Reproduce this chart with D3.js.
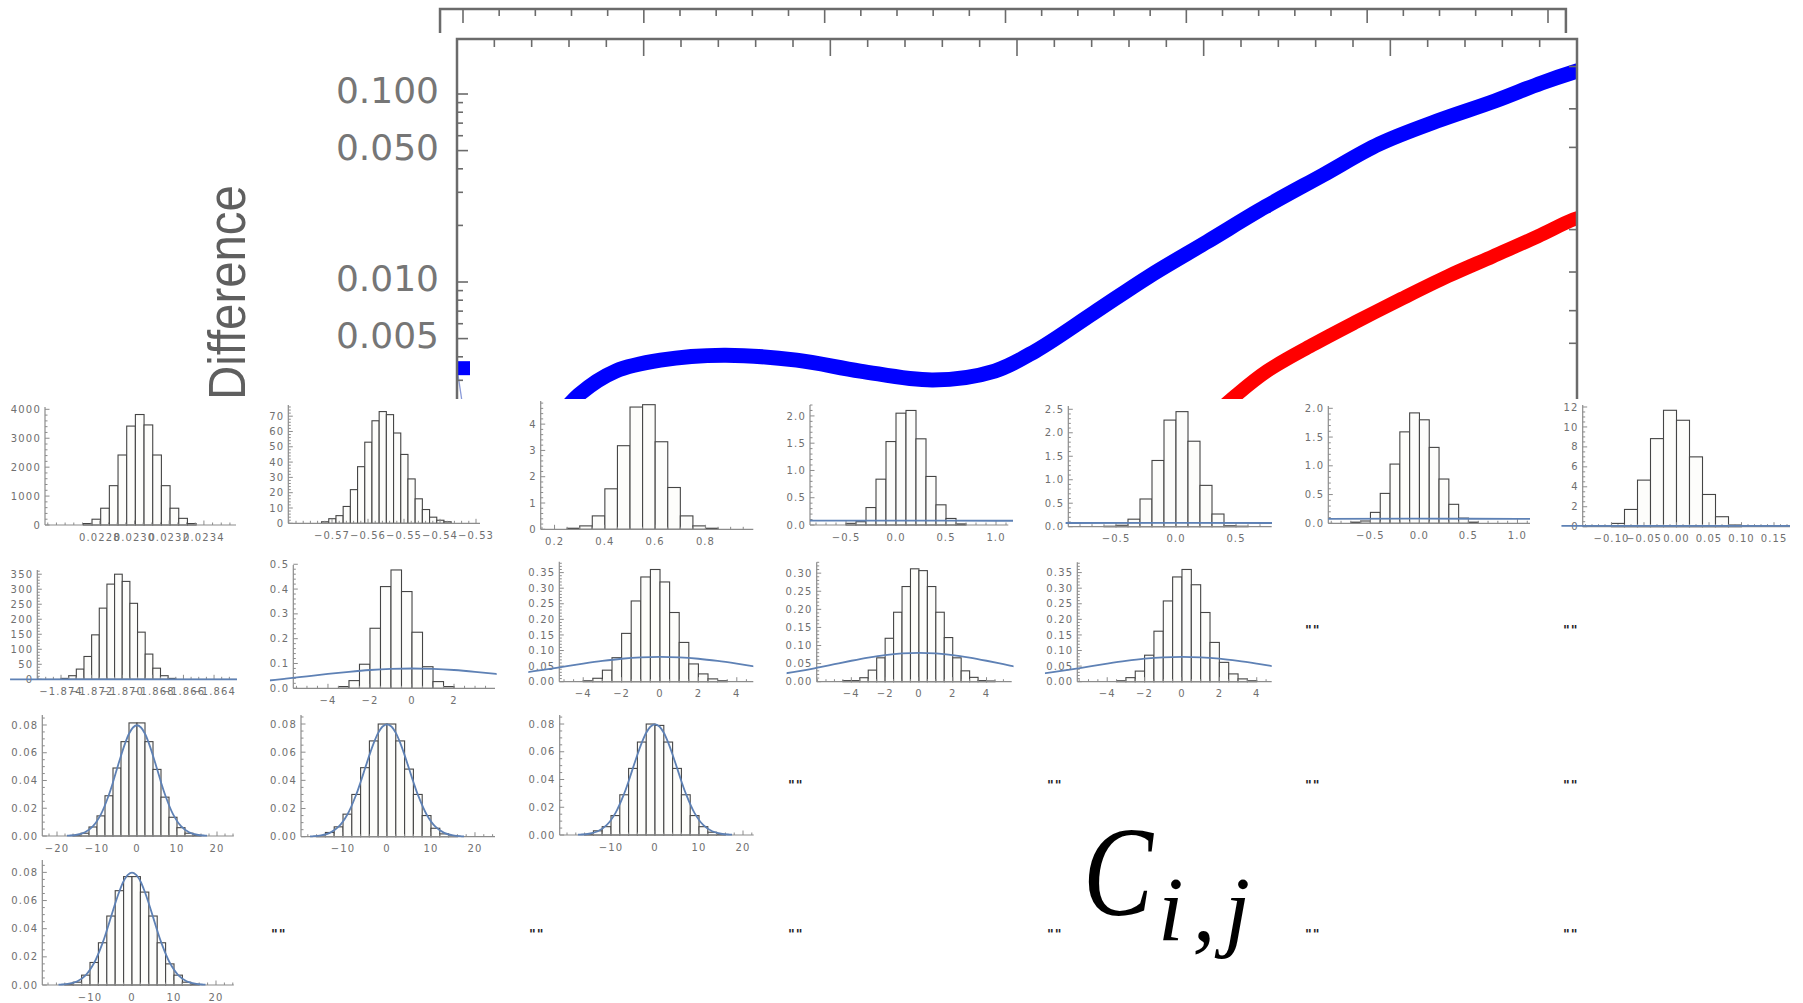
<!DOCTYPE html>
<html><head><meta charset="utf-8">
<script src="https://cdn.jsdelivr.net/npm/d3@7"></script>
<style>body{margin:0;background:#fff}svg{display:block}</style>
</head><body><svg id="c" width="1803" height="1003"></svg>
<script>
// ================= TOP PLOT DATA =================
const blueX = [0, 0.07, 0.30, 0.50, 0.652, 0.85, 1.09, 1.43, 1.82, 2.16, 2.55, 2.88, 3.10, 3.41, 3.71, 4.02, 4.33, 4.64, 4.94, 5.25, 5.56, 5.81, 6.0, 6.05];
const blueDiff = [0.00348, 0.0012, 0.0011, 0.0017, 0.00251, 0.00336, 0.00384, 0.00408, 0.00384, 0.00336, 0.00301, 0.00336, 0.0043, 0.00684, 0.01076, 0.0164, 0.0251, 0.0371, 0.0542, 0.0718, 0.0918, 0.1145, 0.1325, 0.137];
const redX = [3.98, 4.17, 4.34, 4.58, 4.82, 5.06, 5.31, 5.55, 5.79, 5.98, 6.05];
const redDiff = [0.00168, 0.00248, 0.00336, 0.00461, 0.00616, 0.00814, 0.01076, 0.0137, 0.0175, 0.0215, 0.0225];
const yTicksTop = [0.1, 0.05, 0.01, 0.005];
const yTickLabelsTop = ["0.100", "0.050", "0.010", "0.005"];
const yMinorTop = [0.002,0.003,0.004,0.006,0.007,0.008,0.009,0.02,0.03,0.04,0.06,0.07,0.08,0.09];
const yRightTop = [0.140, 0.0834, 0.052, 0.019, 0.0113, 0.00704, 0.00472];
const xMajorTop = [1, 2, 3, 4, 5];

// ================= HISTOGRAM DATA =================
const h11 = [50, 200, 580, 1360, 2420, 3420, 3820, 3460, 2420, 1360, 580, 230, 50];
const h12 = [1, 3, 5, 11, 22, 37, 53, 67, 73, 71, 59, 45, 29, 16, 9, 4, 2, 1];
const h13 = [0.04, 0.13, 0.51, 1.54, 3.18, 4.65, 4.74, 3.33, 1.59, 0.51, 0.13, 0.04];
const h14 = [0.03, 0.06, 0.32, 0.84, 1.53, 2.05, 2.10, 1.58, 0.89, 0.37, 0.12, 0.02];
const h15 = [0.01, 0.03, 0.16, 0.59, 1.41, 2.27, 2.45, 1.82, 0.88, 0.27, 0.02, 0.01];
const h16 = [0.02, 0.04, 0.19, 0.52, 1.03, 1.59, 1.92, 1.80, 1.32, 0.77, 0.33, 0.09, 0.02];
const h17 = [0.33, 1.73, 4.67, 8.83, 11.67, 10.67, 7.0, 3.23, 1.0, 0.17];
const h21 = [3, 12, 34, 76, 148, 237, 317, 350, 326, 253, 157, 84, 37, 12, 3];
const h22 = [0.007, 0.031, 0.097, 0.242, 0.41, 0.477, 0.39, 0.226, 0.087, 0.027, 0.007];
const h23 = [0.003, 0.011, 0.037, 0.077, 0.155, 0.259, 0.336, 0.360, 0.320, 0.222, 0.126, 0.057, 0.025, 0.009, 0.003];
const h24 = [0.003, 0.003, 0.011, 0.032, 0.066, 0.120, 0.192, 0.263, 0.312, 0.307, 0.263, 0.192, 0.122, 0.066, 0.030, 0.012, 0.003, 0.002];
const h25 = [0.003, 0.013, 0.034, 0.085, 0.162, 0.259, 0.336, 0.360, 0.311, 0.222, 0.126, 0.062, 0.025, 0.009, 0.003];
const h31 = [0.0005, 0.002, 0.0065, 0.0145, 0.029, 0.049, 0.068, 0.0815, 0.0815, 0.068, 0.048, 0.028, 0.0135, 0.006, 0.002, 0.0005];
const h32 = [0.0005, 0.003, 0.007, 0.016, 0.030, 0.049, 0.068, 0.080, 0.080, 0.068, 0.048, 0.030, 0.015, 0.006, 0.002, 0.0005];
const h33 = [0.0005, 0.003, 0.006, 0.014, 0.029, 0.048, 0.067, 0.080, 0.079, 0.067, 0.048, 0.029, 0.014, 0.006, 0.002, 0.0005];
const h41 = [0.0005, 0.002, 0.007, 0.016, 0.030, 0.049, 0.067, 0.077, 0.077, 0.066, 0.049, 0.030, 0.015, 0.007, 0.002, 0.0005];

const binStart = {h11: 0.022705, h12: -0.5729, h13: 0.25, h14: -0.5, h15: -0.6, h16: -0.7, h17: -0.10, h21: -1.874, h22: -3.5, h23: -4, h24: -4.5, h25: -3.5, h31: -16, h32: -16, h33: -16, h41: -16};
const binWidth = {h11: 0.00005, h12: 0.002, h13: 0.05, h14: 0.1, h15: 0.1, h16: 0.1, h17: 0.02, h21: 0.0005, h22: 0.5, h23: 0.5, h24: 0.5, h25: 0.5, h31: 2, h32: 2, h33: 2, h41: 2};

// fitted density curve (shared by panels)
const curveX = [-24, -20, -17, -15, -13, -11, -9, -7, -6, -5, -4, -3, -2, -1, 0, 1, 2, 3, 4, 5, 6, 7, 9, 11, 13, 15, 17, 20, 24];
const curveY = [0.000001, 0.00003, 0.0003, 0.0009, 0.0027, 0.0071, 0.0158, 0.0299, 0.0388, 0.0484, 0.0579, 0.0666, 0.0737, 0.0782, 0.0798, 0.0782, 0.0737, 0.0666, 0.0579, 0.0484, 0.0388, 0.0299, 0.0158, 0.0071, 0.0027, 0.0009, 0.0003, 0.00003, 0.000001];

const xt11 = [0.0228, 0.0230, 0.0232, 0.0234], yt11 = [0, 1000, 2000, 3000, 4000];
const xt12 = [-0.57, -0.56, -0.55, -0.54, -0.53], yt12 = [0, 10, 20, 30, 40, 50, 60, 70];
const xt13 = [0.2, 0.4, 0.6, 0.8], yt13 = [0, 1, 2, 3, 4];
const xt14 = [-0.5, 0, 0.5, 1.0], yt14 = [0, 0.5, 1, 1.5, 2];
const xt15 = [-0.5, 0, 0.5], yt15 = [0, 0.5, 1, 1.5, 2, 2.5];
const xt16 = [-0.5, 0, 0.5, 1.0], yt16 = [0, 0.5, 1, 1.5, 2];
const xt17 = [-0.10, -0.05, 0, 0.05, 0.10, 0.15], yt17 = [0, 2, 4, 6, 8, 10, 12];
const xt21 = [-1.874, -1.872, -1.870, -1.868, -1.866, -1.864], yt21 = [0, 50, 100, 150, 200, 250, 300, 350];
const xt22 = [-4, -2, 0, 2], yt22 = [0, 0.1, 0.2, 0.3, 0.4, 0.5];
const xtN = [-4, -2, 0, 2, 4];
const yt23 = [0, 0.05, 0.1, 0.15, 0.2, 0.25, 0.3, 0.35], yt24 = [0, 0.05, 0.1, 0.15, 0.2, 0.25, 0.3];
const xt31 = [-20, -10, 0, 10, 20], xt32 = [-10, 0, 10, 20], ytG = [0, 0.02, 0.04, 0.06, 0.08];

// ================= LAYOUT (pixels) =================
const panels = [
 {k:'h11', l:45, r:236, b:525, t:407, xd:[0.022484,0.023585], ym:4080, xt:xt11, xf:'.4f', xm:0.00005, yt:yt11, yf:'d', ymn:200},
 {k:'h12', l:288.3, r:480, b:523.3, t:405, xd:[-0.58214,-0.52889], ym:77.3, xt:xt12, xf:'.2f', xm:0.002, yt:yt12, yf:'d', ymn:2},
 {k:'h13', l:540.7, r:753.3, b:529.3, t:401, xd:[0.145,0.99], ym:4.88, xt:xt13, xf:'.1f', xm:0.05, yt:yt13, yf:'d', ymn:0.2},
 {k:'h14', l:810, r:1008.3, b:525, t:405, xd:[-0.86,1.123], ym:2.2, xt:xt14, xf:'.1f', xm:0.1, yt:yt14, yf:'.1f', ymn:0.1, c:[-0.86,1.17]},
 {k:'h15', l:1068.3, r:1271.7, b:526.7, t:406, xd:[-0.8975,0.7975], ym:2.57, xt:xt15, xf:'.1f', xm:0.1, yt:yt15, yf:'.1f', ymn:0.1, c:[-0.92,0.80]},
 {k:'h16', l:1328.3, r:1530, b:523.3, t:406, xd:[-0.93,1.128], ym:2.04, xt:xt16, xf:'.1f', xm:0.1, yt:yt16, yf:'.1f', ymn:0.1, c:[-0.93,1.128]},
 {k:'h17', l:1582.7, r:1790, b:526.7, t:405, xd:[-0.1443,0.1746], ym:12.2, xt:xt17, xf:'.2f', xm:0.01, yt:yt17, yf:'d', ymn:0.5, c:[-0.177,0.1746]},
 {k:'h21', l:37.3, r:236.7, b:679.3, t:570, xd:[-1.87555,-1.86252], ym:364, xt:xt21, xf:'.3f', xm:0.0005, yt:yt21, yf:'d', ymn:10, c:[-1.87733,-1.8625]},
 {k:'h22', l:293.3, r:495, b:688.3, t:565, xd:[-5.65,3.95], ym:0.497, xt:xt22, xf:'d', xm:0.5, yt:yt22, yf:'.1f', ymn:0.02, c:[-6.76,4.03]},
 {k:'h23', l:559.3, r:753.3, b:681.7, t:561.7, xd:[-5.245,4.859], ym:0.385, xt:xtN, xf:'d', xm:0.5, yt:yt23, yf:'.2f', ymn:0.01, c:[-6.86,4.86]},
 {k:'h24', l:816.7, r:1011.7, b:681.7, t:562.3, xd:[-6.05,5.49], ym:0.33, xt:xtN, xf:'d', xm:0.5, yt:yt24, yf:'.2f', ymn:0.01, c:[-7.83,5.6]},
 {k:'h25', l:1077.3, r:1271.7, b:681.7, t:562.3, xd:[-5.6,4.8], ym:0.383, xt:xtN, xf:'d', xm:0.5, yt:yt23, yf:'.2f', ymn:0.01, c:[-7.33,4.8]},
 {k:'h31', l:42.3, r:233.8, b:836, t:715, xd:[-23.675,24.2], ym:0.0872, xt:xt31, xf:'d', xm:2, yt:ytG, yf:'.2f', ymn:0.005, c:[-17.5,17.5]},
 {k:'h32', l:301, r:495, b:836.7, t:715, xd:[-19.55,24.55], ym:0.0864, xt:xt32, xf:'d', xm:2, yt:ytG, yf:'.2f', ymn:0.005, c:[-17.5,17.5]},
 {k:'h33', l:559.7, r:753.7, b:835, t:715, xd:[-21.66,22.43], ym:0.0865, xt:xt32, xf:'d', xm:2, yt:ytG, yf:'.2f', ymn:0.005, c:[-17.5,17.5]},
 {k:'h41', l:42.3, r:233.8, b:985, t:860, xd:[-21.36,24.24], ym:0.0888, xt:xt32, xf:'d', xm:2, yt:ytG, yf:'.2f', ymn:0.005, c:[-17.5,17.5]}
];
const histData = {h11,h12,h13,h14,h15,h16,h17,h21,h22,h23,h24,h25,h31,h32,h33,h41};
const emptyCells = [[1305,626],[1563,626],[788,781],[1047,781],[1305,781],[1563,781],[271,930],[529,930],[788,930],[1047,930],[1305,930],[1563,930]];

const svg = d3.select('#c');
svg.append('rect').attr('width',1803).attr('height',1003).attr('fill','#fff');

// ================= TOP PLOT =================
const FR = {l:457, r:1577, t:39, clipB:399};
const xTop = d3.scaleLinear().domain([0,6]).range([FR.l, FR.r]);
const yTop = d3.scaleLog().domain([0.0003, 0.19]).range([568.3, 41.6]);
const frameCol = '#6b6b6b';
const topG = svg.append('g');
const defs = svg.append('defs');
defs.append('clipPath').attr('id','topclip').append('rect').attr('x',0).attr('y',0).attr('width',1803).attr('height',FR.clipB);
defs.append('clipPath').attr('id','plotclip').append('rect').attr('x',FR.l).attr('y',FR.t).attr('width',FR.r-FR.l).attr('height',FR.clipB-FR.t);
const tg = topG.append('g').attr('clip-path','url(#topclip)');

// upper strip
const xStrip = d3.scaleLinear().domain([0,6]).range([463,1548]);
tg.append('path').attr('d',`M${xStrip(-0.127)},33V9H${xStrip(6.099)}V33`).attr('fill','none').attr('stroke',frameCol).attr('stroke-width',2.5);
d3.range(0,31).forEach(i=>{const v=i*0.2, maj=i%5===0;
  tg.append('line').attr('x1',xStrip(v)).attr('x2',xStrip(v)).attr('y1',9).attr('y2',maj?23:16).attr('stroke',frameCol).attr('stroke-width',1.6);});

// data curves
const pg = tg.append('g').attr('clip-path','url(#plotclip)');
const lineTop = d3.line().x(d=>xTop(d[0])).y(d=>yTop(d[1])).curve(d3.curveCatmullRom);
const bluePts = blueX.map((x,i)=>[x,blueDiff[i]]);
const redPts = redX.map((x,i)=>[x,redDiff[i]]);
pg.append('path').attr('d',d3.line().x(d=>xTop(d[0])).y(d=>yTop(d[1]))(bluePts.slice(0,2))).attr('fill','none').attr('stroke','#8a9ad8').attr('stroke-width',1.3);
pg.append('path').attr('d',lineTop(bluePts.slice(1))).attr('fill','none').attr('stroke','#0000ff').attr('stroke-width',15).attr('stroke-linejoin','round');
pg.append('rect').attr('x',xTop(blueX[0])-1).attr('y',yTop(blueDiff[0])-7).attr('width',14).attr('height',14).attr('fill','#0000ff');
pg.append('path').attr('d',lineTop(redPts)).attr('fill','none').attr('stroke','#ff0000').attr('stroke-width',14).attr('stroke-linejoin','round');

// frame
tg.append('path').attr('d',`M${FR.l},${FR.clipB+2}V${FR.t}H${FR.r}V${FR.clipB+2}`).attr('fill','none').attr('stroke',frameCol).attr('stroke-width',2.5);
d3.range(1,30).forEach(i=>{const v=i*0.2, maj=xMajorTop.includes(Math.round(v*1000)/1000);
  tg.append('line').attr('x1',xTop(v)).attr('x2',xTop(v)).attr('y1',FR.t).attr('y2',FR.t+(maj?17:8)).attr('stroke',frameCol).attr('stroke-width',1.6);});
yTicksTop.forEach((v,i)=>{
  tg.append('line').attr('x1',FR.l).attr('x2',FR.l+11).attr('y1',yTop(v)).attr('y2',yTop(v)).attr('stroke',frameCol).attr('stroke-width',1.6);
  tg.append('text').attr('x',439).attr('y',yTop(v)+9).attr('text-anchor','end')
    .attr('font-family','DejaVu Sans').attr('font-size',36).attr('fill','#767676').text(yTickLabelsTop[i]);
});
yMinorTop.forEach(v=>tg.append('line').attr('x1',FR.l).attr('x2',FR.l+6).attr('y1',yTop(v)).attr('y2',yTop(v)).attr('stroke',frameCol).attr('stroke-width',1.6));
yRightTop.forEach(v=>tg.append('line').attr('x1',FR.r-8).attr('x2',FR.r).attr('y1',yTop(v)).attr('y2',yTop(v)).attr('stroke',frameCol).attr('stroke-width',1.6));
tg.append('text').attr('transform','translate(245,400) rotate(-90) scale(0.91,1)')
  .attr('font-family','Liberation Sans, Arial').attr('font-size',52).attr('fill','#5f5f5f').text('Difference');

// ================= HISTOGRAMS =================
const axisCol = '#8c8c8c', labCol = '#6f6f6f';
panels.forEach(p=>{
  const vals = histData[p.k], s0 = binStart[p.k], bw = binWidth[p.k];
  const x = d3.scaleLinear().domain(p.xd).range([p.l,p.r]);
  const y = d3.scaleLinear().domain([0,p.ym]).range([p.b,p.t]);
  const g = svg.append('g');
  g.selectAll('rect.bar').data(vals).join('rect').attr('class','bar')
    .attr('x',(d,i)=>x(s0+i*bw)).attr('width',(d,i)=>x(s0+(i+1)*bw)-x(s0+i*bw))
    .attr('y',d=>y(d)).attr('height',d=>p.b-y(d))
    .attr('fill','#fdfdfb').attr('stroke','#454545').attr('stroke-width',1.1);
  g.append('line').attr('x1',p.l).attr('x2',p.r).attr('y1',p.b).attr('y2',p.b).attr('stroke',axisCol).attr('stroke-width',1.2);
  g.append('line').attr('x1',p.l).attr('x2',p.l).attr('y1',p.b).attr('y2',p.t).attr('stroke',axisCol).attr('stroke-width',1.2);
  const xfmt = d3.format(p.xf), yfmt = d3.format(p.yf);
  const near = (v,arr,st)=>arr.some(a=>Math.abs(a-v)<st*0.3);
  const kx0 = Math.ceil(p.xd[0]/p.xm), kx1 = Math.floor(p.xd[1]/p.xm);
  for(let k=kx0;k<=kx1;k++){const v=k*p.xm; if(near(v,p.xt,p.xm)) continue;
    g.append('line').attr('x1',x(v)).attr('x2',x(v)).attr('y1',p.b).attr('y2',p.b-2.5).attr('stroke',axisCol);}
  p.xt.forEach(v=>{
    g.append('line').attr('x1',x(v)).attr('x2',x(v)).attr('y1',p.b).attr('y2',p.b-4.5).attr('stroke',axisCol);
    g.append('text').attr('x',x(v)).attr('y',p.b+15.5).attr('text-anchor','middle')
      .attr('font-family','DejaVu Sans').attr('font-size',10).attr('letter-spacing',1.1).attr('fill',labCol).text(xfmt(v));
  });
  const ky1 = Math.floor(p.ym/p.ymn);
  for(let k=1;k<=ky1;k++){const v=k*p.ymn; if(near(v,p.yt,p.ymn)) continue;
    g.append('line').attr('x1',p.l).attr('x2',p.l+2.5).attr('y1',y(v)).attr('y2',y(v)).attr('stroke',axisCol);}
  p.yt.forEach(v=>{
    g.append('line').attr('x1',p.l).attr('x2',p.l+4.5).attr('y1',y(v)).attr('y2',y(v)).attr('stroke',axisCol);
    g.append('text').attr('x',p.l-4).attr('y',y(v)+3.6).attr('text-anchor','end')
      .attr('font-family','DejaVu Sans').attr('font-size',10).attr('letter-spacing',1.2).attr('fill',labCol).text(yfmt(v));
  });
  if(p.c){
    const id = 'cc'+p.k;
    defs.append('clipPath').attr('id',id).append('rect').attr('x',x(p.c[0])).attr('y',p.t-10).attr('width',x(p.c[1])-x(p.c[0])).attr('height',p.b-p.t+12);
    const pts = curveX.map((cx,i)=>[cx,curveY[i]]);
    g.append('path').attr('clip-path',`url(#${id})`)
      .attr('d',d3.line().x(d=>x(d[0])).y(d=>y(d[1])).curve(d3.curveCatmullRom)(pts))
      .attr('fill','none').attr('stroke','#5e81b5').attr('stroke-width',1.8);
  }
});

// empty-string placeholders
emptyCells.forEach(([cx,cy])=>{
  svg.append('text').attr('x',cx).attr('y',cy+8).attr('font-family','DejaVu Sans').attr('font-weight','bold')
    .attr('font-size',13).attr('letter-spacing',1).attr('fill','#222').text('""');
});

// C_{i,j}
svg.append('text').attr('transform','translate(1083,915) scale(0.82,1)').attr('font-family','Liberation Serif').attr('font-style','italic')
  .attr('font-size',128).attr('fill','#000').text('C');
svg.append('text').attr('transform','translate(1158,940)').attr('font-family','Liberation Serif').attr('font-style','italic')
  .attr('font-size',92).attr('letter-spacing',9).attr('fill','#000').text('i,j');
</script></body></html>
